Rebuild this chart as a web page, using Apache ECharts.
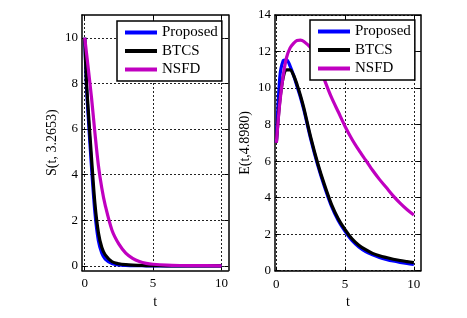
<!DOCTYPE html>
<html>
<head>
<meta charset="utf-8">
<script src="https://cdn.jsdelivr.net/npm/echarts@6/dist/echarts.min.js"></script>
<style>html,body{margin:0;padding:0;background:#fff}#c{width:467px;height:318px}</style>
</head>
<body>
<div id="c"></div>
<script>
// ---- data ----
var seriesNames = ['Proposed', 'BTCS', 'NSFD'];
var tS = [0, 0.125, 0.25, 0.5, 0.75, 1, 1.25, 1.5, 2, 2.5, 3, 3.5, 4, 4.5, 5, 6, 7, 8, 10];
var sProposed = [10, 7.9, 6.6, 4.3, 2.3, 1.1, 0.55, 0.3, 0.1, 0.04, 0.02, 0.01, 0.01, 0, 0, 0, 0, 0, 0];
var sBTCS     = [10, 8.1, 6.9, 4.7, 2.7, 1.45, 0.8, 0.48, 0.18, 0.09, 0.05, 0.03, 0.02, 0.01, 0.01, 0, 0, 0, 0];
var sNSFD     = [10, 9.35, 8.7, 7.35, 5.8, 4.4, 3.4, 2.65, 1.55, 0.95, 0.56, 0.33, 0.19, 0.11, 0.07, 0.03, 0.015, 0.01, 0];
var tE = [0, 0.25, 0.5, 0.75, 1, 1.25, 1.5, 1.75, 2, 2.5, 3, 3.5, 4, 4.5, 5, 5.5, 6, 6.5, 7, 7.5, 8, 8.5, 9, 9.5, 10];
var eProposed = [7, 10.6, 11.5, 11.55, 11.2, 10.7, 10.1, 9.5, 8.8, 7.2, 5.8, 4.6, 3.55, 2.75, 2.15, 1.65, 1.3, 1.05, 0.87, 0.73, 0.62, 0.53, 0.46, 0.4, 0.35];
var eBTCS     = [7, 9.3, 10.6, 11.0, 11.0, 10.7, 10.2, 9.6, 8.9, 7.3, 5.9, 4.7, 3.65, 2.85, 2.25, 1.75, 1.4, 1.15, 0.95, 0.82, 0.72, 0.63, 0.56, 0.5, 0.44];
var eNSFD     = [7, 9.2, 10.7, 11.7, 12.2, 12.45, 12.6, 12.62, 12.55, 12.2, 11.5, 10.45, 9.5, 8.7, 7.9, 7.2, 6.6, 6.05, 5.5, 5.0, 4.55, 4.1, 3.7, 3.35, 3.05];
var xTicks = [0, 5, 10];
var ySTicks = [0, 2, 4, 6, 8, 10];
var yLabelS = 'S(t, 3.2653)';
var yLabelE = 'E(t,4.8980)';
var xLabel = 't';

// ---- styling ----
var colors = ['#0000ff', '#000000', '#c000c0'];
var FONT = 'Liberation Serif';
function pairs(t, v) { return t.map(function (x, i) { return [x, v[i]]; }); }

var chart = echarts.init(document.getElementById('c'), null, { renderer: 'canvas' });

function baseAxis(extra) {
  var a = {
    type: 'value',
    axisLine: { show: true, onZero: false, lineStyle: { color: '#000', width: 1.5 } },
    axisTick: { show: true, inside: true, length: 4, lineStyle: { color: '#000' } },
    axisLabel: { color: '#000', fontFamily: FONT, fontSize: 13 },
    splitLine: { show: true, lineStyle: { color: '#222', type: [2, 2], width: 1 } },
    nameTextStyle: { color: '#000', fontFamily: FONT, fontSize: 14 }
  };
  for (var k in extra) a[k] = extra[k];
  return a;
}
function mirrorAxis(extra) {
  var a = {
    type: 'value',
    axisLine: { show: true, onZero: false, lineStyle: { color: '#000', width: 1.5 } },
    axisTick: { show: true, inside: true, length: 4, lineStyle: { color: '#000' } },
    axisLabel: { show: false },
    splitLine: { show: false }
  };
  for (var k in extra) a[k] = extra[k];
  return a;
}

var option = {
  animation: false,
  backgroundColor: '#fff',
  color: colors,
  grid: [
    { left: 82, right: 238.7, top: 15, bottom: 47.6, show: false },
    { left: 275, right: 46.3, top: 15, bottom: 47.3, show: false }
  ],
  xAxis: [
    baseAxis({ gridIndex: 0, min: -0.2, max: 10.5, position: 'bottom',
      axisTick: { show: true, inside: true, length: 4, customValues: xTicks, lineStyle: { color: '#000' } },
      axisLabel: { color: '#000', fontFamily: FONT, fontSize: 13, margin: 7, customValues: xTicks },
      name: xLabel, nameLocation: 'middle', nameGap: 25 }),
    baseAxis({ gridIndex: 1, min: -0.1, max: 10.5, position: 'bottom',
      axisTick: { show: true, inside: true, length: 4, customValues: xTicks, lineStyle: { color: '#000' } },
      axisLabel: { color: '#000', fontFamily: FONT, fontSize: 13, margin: 7, customValues: xTicks },
      name: xLabel, nameLocation: 'middle', nameGap: 25 }),
    mirrorAxis({ gridIndex: 0, min: -0.2, max: 10.5, position: 'top',
      axisTick: { show: true, inside: true, length: 4, customValues: xTicks, lineStyle: { color: '#000' } } }),
    mirrorAxis({ gridIndex: 1, min: -0.1, max: 10.5, position: 'top',
      axisTick: { show: true, inside: true, length: 4, customValues: xTicks, lineStyle: { color: '#000' } } })
  ],
  yAxis: [
    baseAxis({ gridIndex: 0, min: -0.2, max: 11, position: 'left',
      axisTick: { show: true, inside: true, length: 4, customValues: ySTicks, lineStyle: { color: '#000' } },
      axisLabel: { color: '#000', fontFamily: FONT, fontSize: 13, margin: 4, customValues: ySTicks },
      name: yLabelS, nameLocation: 'middle', nameGap: 23 }),
    baseAxis({ gridIndex: 1, min: 0, max: 14, interval: 2, position: 'left',
      axisLabel: { color: '#000', fontFamily: FONT, fontSize: 13, margin: 4 },
      name: yLabelE, nameLocation: 'middle', nameGap: 23 }),
    mirrorAxis({ gridIndex: 0, min: -0.2, max: 11, position: 'right',
      axisTick: { show: true, inside: true, length: 4, customValues: ySTicks, lineStyle: { color: '#000' } } }),
    mirrorAxis({ gridIndex: 1, min: 0, max: 14, interval: 2, position: 'right' })
  ],
  legend: [
    { data: seriesNames, orient: 'vertical', left: 117, top: 21,
      backgroundColor: '#fff', borderColor: '#000', borderWidth: 1.5, borderRadius: 0,
      padding: [4, 4, 4, 8], itemGap: 3.5, itemWidth: 32, itemHeight: 4, icon: 'rect',
      textStyle: { color: '#000', fontFamily: FONT, fontSize: 15, lineHeight: 15 } },
    { data: seriesNames, orient: 'vertical', left: 310, top: 20,
      backgroundColor: '#fff', borderColor: '#000', borderWidth: 1.5, borderRadius: 0,
      padding: [4, 4, 4, 8], itemGap: 3.5, itemWidth: 32, itemHeight: 4, icon: 'rect',
      textStyle: { color: '#000', fontFamily: FONT, fontSize: 15, lineHeight: 15 } }
  ],
  series: [
    { name: seriesNames[0], type: 'line', xAxisIndex: 0, yAxisIndex: 0, data: pairs(tS, sProposed) },
    { name: seriesNames[1], type: 'line', xAxisIndex: 0, yAxisIndex: 0, data: pairs(tS, sBTCS) },
    { name: seriesNames[2], type: 'line', xAxisIndex: 0, yAxisIndex: 0, data: pairs(tS, sNSFD) },
    { name: seriesNames[0], type: 'line', xAxisIndex: 1, yAxisIndex: 1, data: pairs(tE, eProposed) },
    { name: seriesNames[1], type: 'line', xAxisIndex: 1, yAxisIndex: 1, data: pairs(tE, eBTCS) },
    { name: seriesNames[2], type: 'line', xAxisIndex: 1, yAxisIndex: 1, data: pairs(tE, eNSFD) }
  ].map(function (s, i) {
    s.showSymbol = false; s.symbol = 'none'; s.smooth = 0.3;
    s.lineStyle = { width: 3.2, color: colors[i % 3] };
    s.itemStyle = { color: colors[i % 3] };
    return s;
  })
};
chart.setOption(option);
</script>
</body>
</html>
